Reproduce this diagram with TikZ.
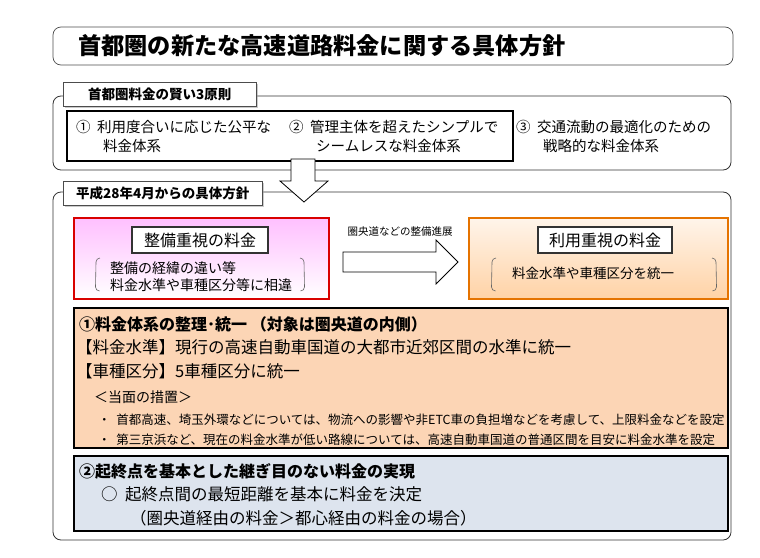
\documentclass[tikz,border=0pt]{standalone}
\usepackage{fontspec}
\setmainfont{Noto Sans CJK JP}
\usetikzlibrary{shadows}
\begin{document}
\begin{tikzpicture}[x=1pt,y=-1pt,
  outer/.style={draw=black!80,line width=0.8pt,rounded corners=8pt,fill=white},
  tab/.style={draw=black!70,fill=white,line width=0.6pt,drop shadow={shadow xshift=1.5pt,shadow yshift=-1.5pt,fill=black!40},inner sep=0pt},
  tt/.style={anchor=west,font=\fontsize{14}{16}\selectfont,inner sep=0pt},
  rw/.style={anchor=west,font=\fontsize{14.5}{17}\selectfont,inner sep=0pt},
  sm/.style={anchor=west,font=\fontsize{12.5}{14}\selectfont,inner sep=0pt},
  big/.style={anchor=west,font=\fontsize{16.5}{18}\selectfont,inner sep=0pt},
  hd/.style={draw=black!80,line width=1.2pt,fill=white,font=\fontsize{16}{18}\selectfont,drop shadow={shadow xshift=1.2pt,shadow yshift=-1.2pt,fill=black!50}},
  paren/.style={draw=black!60,line width=0.6pt}]
\useasboundingbox (0,0) rectangle (760,557);
% title
\draw[draw=black!70,rounded corners=8pt,line width=0.7pt] (53,27) rectangle (733,65);
\node[anchor=west,font=\bfseries\fontsize{23.2}{26}\selectfont,inner sep=0pt] (tt0) at (78,46) {首都圏の新たな高速道路料金に関する具体方針};
% section 1
\draw[outer] (53,96) rectangle (731,170);
\node[tab,minimum width=193pt,minimum height=24pt,anchor=north west,font=\bfseries\fontsize{13.5}{15}\selectfont] (tab1) at (63,82) {首都圏料金の賢い3原則};
\draw[line width=1.6pt] (67,111) rectangle (513,161);
\node[rw] (p1a) at (76,127) {①\ \ 利用度合いに応じた公平な};
\node[rw] (p1b) at (103,146) {料金体系};
\node[rw] (p2a) at (289,127) {②\ \ 管理主体を超えたシンプルで};
\node[rw] (p2b) at (316,146) {シームレスな料金体系};
\node[rw] (p3a) at (516,127) {③\ \ 交通流動の最適化のための};
\node[rw] (p3b) at (543,146) {戦略的な料金体系};
% section 2
\draw[outer] (53,192) rectangle (731,540);
\node[tab,minimum width=199pt,minimum height=24pt,anchor=north west,font=\bfseries\fontsize{13.5}{15}\selectfont] (tab2) at (63,181) {平成28年4月からの具体方針};
% down arrow
\draw[fill=white,line width=0.8pt] (291,159) -- (315,159) -- (315,181) -- (328,181) -- (304,202) -- (280,181) -- (291,181) -- cycle;
% pink box
\node[draw=red!85!black,line width=1.5pt,minimum width=255pt,minimum height=81pt,anchor=north west,top color=magenta!25,bottom color=white] (pink) at (73,217) {};
\node[hd,minimum width=136pt,minimum height=26pt] (h1) at (200,240) {整備重視の料金};
\draw[paren] (100,258) arc[start angle=90,end angle=180,radius=4pt] -- (95.5,287) arc[start angle=180,end angle=270,radius=4pt];
\draw[paren] (300,258) arc[start angle=90,end angle=0,radius=4pt] -- (304.5,287) arc[start angle=0,end angle=-90,radius=4pt];
\node[tt] (pk1) at (110,268) {整備の経緯の違い等};
\node[tt] (pk2) at (110,285) {料金水準や車種区分等に相違};
% right arrow
\draw[fill=white,line width=0.8pt] (343,252) -- (436,252) -- (436,240) -- (458,262) -- (436,284) -- (436,272) -- (343,272) -- cycle;
\node[font=\fontsize{10.5}{12}\selectfont,inner sep=0pt] (lab) at (400,232) {圏央道などの整備進展};
% orange box
\node[draw=orange!90!black,line width=1.5pt,minimum width=259pt,minimum height=81pt,anchor=north west,top color=orange!8,bottom color=orange!35] (org) at (468,217) {};
\node[hd,minimum width=134pt,minimum height=26pt] (h2) at (605,240) {利用重視の料金};
\draw[paren] (496,258) arc[start angle=90,end angle=180,radius=4pt] -- (491.5,287) arc[start angle=180,end angle=270,radius=4pt];
\draw[paren] (712,258) arc[start angle=90,end angle=0,radius=4pt] -- (716.5,287) arc[start angle=0,end angle=-90,radius=4pt];
\node[font=\fontsize{13.5}{15}\selectfont,inner sep=0pt] (og1) at (593,273) {料金水準や車種区分を統一};
% section orange
\node[draw=black,line width=1.6pt,fill={rgb,255:red,252;green,213;blue,181},minimum width=654pt,minimum height=140pt,anchor=north west] (so) at (73,307) {};
\node[big,font=\bfseries\fontsize{16}{18}\selectfont] (o1) at (79,324) {①料金体系の整理･統一\ （対象は圏央道の内側）};
\node[big] (o2) at (76,347) {【料金水準】現行の高速自動車国道の大都市近郊区間の水準に統一};
\node[big] (o3) at (76,371) {【車種区分】5車種区分に統一};
\node[tt,font=\fontsize{14}{16}\selectfont] (o4) at (94,397) {＜当面の措置＞};
\node[sm] (o5) at (98,420) {・\ \ 首都高速、埼玉外環などについては、物流への影響や非ETC車の負担増などを考慮して、上限料金などを設定};
\node[sm] (o6) at (98,440) {・\ \ 第三京浜など、現在の料金水準が低い路線については、高速自動車国道の普通区間を目安に料金水準を設定};
% blue section
\node[draw=black,line width=1.6pt,fill={rgb,255:red,221;green,228;blue,238},minimum width=654pt,minimum height=75pt,anchor=north west] (sb) at (73,455) {};
\node[big,font=\bfseries\fontsize{16}{18}\selectfont] (b1) at (79,471) {②起終点を基本とした継ぎ目のない料金の実現};
\node[big] (b2) at (101,494) {○\ \ 起終点間の最短距離を基本に料金を決定};
\node[big] (b3) at (130,518) {（圏央道経由の料金＞都心経由の料金の場合）};
\end{tikzpicture}
\end{document}
